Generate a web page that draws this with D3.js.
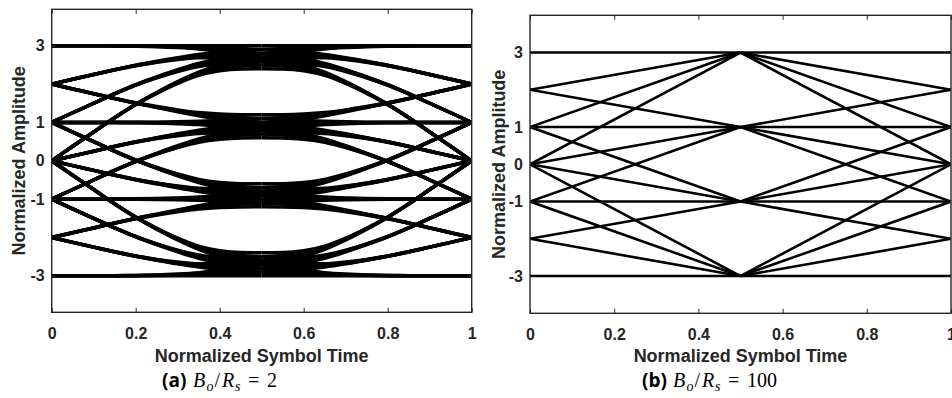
<!DOCTYPE html>
<html>
<head>
<meta charset="utf-8">
<script src="https://cdn.jsdelivr.net/npm/d3@7"></script>
<style>
  html, body { margin: 0; padding: 0; background: #ffffff; }
  svg { display: block; }
</style>
</head>
<body>
<svg id="fig" width="952" height="398"></svg>
<script>
// PAM-4 symbol levels and axis ticks
const symbols = [3, 1, -1, -3];
const xTicks = [0, 0.2, 0.4, 0.6, 0.8, 1];
const yTicks = [-3, -1, 0, 1, 3];

// (a) B_o/R_s = 2 : weight of the previous, current and next symbol
// over the first half of the symbol slot (second half is the mirror image)
const timesA     = [0, 0.05, 0.10, 0.15, 0.20, 0.25, 0.30, 0.35, 0.40, 0.45, 0.50];
const pulseCurA  = [0.500, 0.563, 0.625, 0.687, 0.744, 0.793, 0.836, 0.871, 0.891, 0.899, 0.900];
const pulsePrevA = [0.500, 0.437, 0.375, 0.312, 0.254, 0.203, 0.156, 0.115, 0.085, 0.064, 0.050];
const pulseNextA = [0.000, 0.000, 0.000, 0.001, 0.002, 0.004, 0.008, 0.014, 0.024, 0.037, 0.050];

// (b) B_o/R_s = 100 : straight transitions, no inter-symbol interference
const timesB     = [0, 0.50];
const pulseCurB  = [0.5, 1.0];
const pulsePrevB = [0.5, 0.0];
const pulseNextB = [0.0, 0.0];

// bandwidth ratio quoted in each sub-caption
const captionRatios = ['2', '100'];

const INK = '#262626';
const svg = d3.select('#fig');

const panels = [
  {
    id: 'a', x0: 51.7, x1: 471.7, yTop: 9.3, yBot: 312.3, yDomain: [-3.95, 3.95],
    times: timesA, prev: pulsePrevA, cur: pulseCurA, next: pulseNextA,
    curve: d3.curveMonotoneX, lineWidth: 3.5, yLabelX: 24.5,
    capX: 162, mathX: 193, capValue: captionRatios[0]
  },
  {
    id: 'b', x0: 530, x1: 951, yTop: 15.3, yBot: 313.3, yDomain: [-4, 4],
    times: timesB, prev: pulsePrevB, cur: pulseCurB, next: pulseNextB,
    curve: d3.curveLinear, lineWidth: 2.6, yLabelX: 504.5,
    capX: 642, mathX: 673, capValue: captionRatios[1]
  }
];

const defs = svg.append('defs');

panels.forEach(p => {
  const x = d3.scaleLinear().domain([0, 1]).range([p.x0, p.x1]);
  const y = d3.scaleLinear().domain(p.yDomain).range([p.yBot, p.yTop]);
  const g = svg.append('g').attr('class', 'panel-' + p.id);

  defs.append('clipPath').attr('id', 'clip-' + p.id)
    .append('rect')
    .attr('x', p.x0).attr('y', p.yTop)
    .attr('width', p.x1 - p.x0).attr('height', p.yBot - p.yTop);

  // eye traces: every previous / current / next symbol combination,
  // drawn as two half-slot paths that meet at the symbol centre
  const line = d3.line().x(d => x(d[0])).y(d => y(d[1])).curve(p.curve);
  const n = p.times.length;
  const seen = new Set();
  const paths = [];
  symbols.forEach(prev => symbols.forEach(cur => symbols.forEach(next => {
    const left = [], right = [];
    for (let i = 0; i < n; i++) {
      left.push([p.times[i], prev * p.prev[i] + cur * p.cur[i] + next * p.next[i]]);
    }
    for (let i = n - 1; i >= 0; i--) {
      right.push([1 - p.times[i], next * p.prev[i] + cur * p.cur[i] + prev * p.next[i]]);
    }
    [left, right].forEach(pts => {
      const d = line(pts);
      if (!seen.has(d)) { seen.add(d); paths.push(d); }
    });
  })));

  g.append('g').attr('clip-path', 'url(#clip-' + p.id + ')')
    .selectAll('path').data(paths).join('path')
    .attr('d', d => d)
    .attr('fill', 'none')
    .attr('stroke', '#000')
    .attr('stroke-width', p.lineWidth)
    .attr('stroke-linejoin', 'round');

  // axes with inward ticks on all four sides
  const tick = -4.5;
  const fmtX = d => (d === 0 || d === 1) ? String(d) : d3.format('.1f')(d);
  const fmtY = d => String(d);
  const styleAxis = sel => {
    sel.select('.domain').remove();
    sel.selectAll('.tick line').attr('stroke', INK).attr('stroke-width', 1);
    sel.selectAll('.tick text')
      .attr('fill', INK)
      .style('font-family', '"Liberation Sans", Arial, sans-serif')
      .style('font-weight', 'bold')
      .style('font-size', '16px');
  };
  g.append('g').attr('transform', `translate(0,${p.yBot})`)
    .call(d3.axisBottom(x).tickValues(xTicks).tickFormat(fmtX).tickSize(tick).tickPadding(15.5))
    .call(styleAxis);
  g.append('g').attr('transform', `translate(0,${p.yTop})`)
    .call(d3.axisTop(x).tickValues(xTicks).tickFormat('').tickSize(tick))
    .call(styleAxis);
  g.append('g').attr('transform', `translate(${p.x0},0)`)
    .call(d3.axisLeft(y).tickValues(yTicks).tickFormat(fmtY).tickSize(tick).tickPadding(7))
    .call(styleAxis);
  g.append('g').attr('transform', `translate(${p.x1},0)`)
    .call(d3.axisRight(y).tickValues(yTicks).tickFormat('').tickSize(tick))
    .call(styleAxis);

  g.append('rect')
    .attr('x', p.x0).attr('y', p.yTop)
    .attr('width', p.x1 - p.x0).attr('height', p.yBot - p.yTop)
    .attr('fill', 'none').attr('stroke', INK).attr('stroke-width', 1.4);

  // axis titles
  const titleFont = sel => sel
    .attr('fill', INK)
    .style('font-family', '"Liberation Sans", Arial, sans-serif')
    .style('font-weight', 'bold')
    .style('font-size', '18px');
  g.append('text')
    .attr('x', (p.x0 + p.x1) / 2).attr('y', 362)
    .attr('text-anchor', 'middle')
    .text('Normalized Symbol Time')
    .call(titleFont);
  g.append('text')
    .attr('transform', `translate(${p.yLabelX},${(p.yTop + p.yBot) / 2}) rotate(-90)`)
    .attr('text-anchor', 'middle')
    .text('Normalized Amplitude')
    .call(titleFont);

  // sub-figure caption: bold label, then the ratio set in math style
  const base = 387;
  const cap = g.append('text').attr('fill', '#000');
  cap.append('tspan')
    .attr('x', p.capX).attr('y', base)
    .style('font-family', '"Open Sans", "Noto Sans", sans-serif')
    .style('font-weight', 'bold').style('font-size', '19px')
    .text('(' + p.id + ')');
  const serif = '"Liberation Serif", "Times New Roman", serif';
  const parts = [
    { t: 'B', italic: true, size: 20, off: 0 },
    { t: 'o', italic: true, size: 14, off: 13.5, sub: true },
    { t: '/', size: 20, off: 21.5 },
    { t: 'R', italic: true, size: 20, off: 29 },
    { t: 's', italic: true, size: 14, off: 42, sub: true },
    { t: '=', size: 20, off: 55 },
    { t: p.capValue, size: 20, off: 74 }
  ];
  parts.forEach(q => {
    cap.append('tspan')
      .attr('x', p.mathX + q.off)
      .attr('y', base + (q.sub ? 4 : 0))
      .style('font-family', serif)
      .style('font-style', q.italic ? 'italic' : 'normal')
      .style('font-size', q.size + 'px')
      .text(q.t);
  });
});
</script>
</body>
</html>
